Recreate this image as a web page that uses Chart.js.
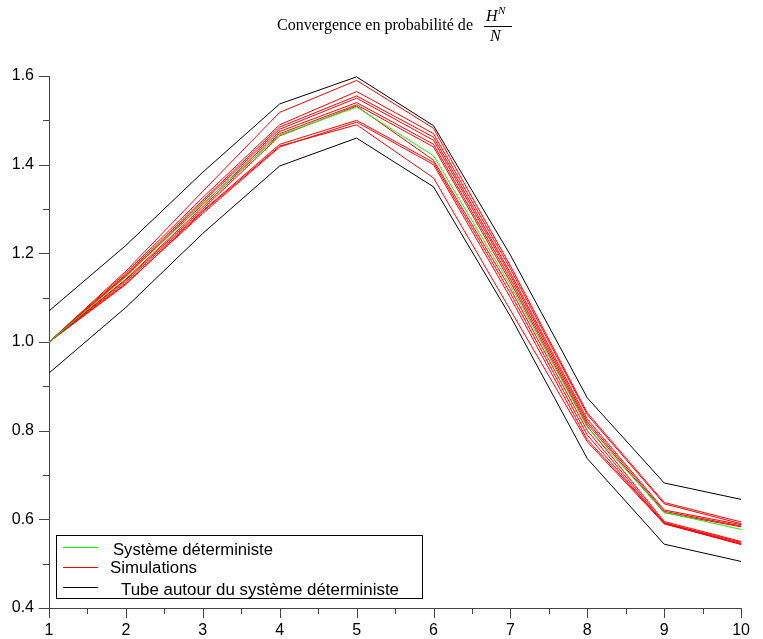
<!DOCTYPE html>
<html>
<head>
<meta charset="utf-8">
<script src="https://cdn.jsdelivr.net/npm/chart.js@4"></script>
<style>
html,body{margin:0;padding:0;background:#fff;}
#c{display:block;}
</style>
</head>
<body>
<canvas id="c" width="763" height="639"></canvas>
<script>
// ---- data ----
const xValues = [1, 2, 3, 4, 5, 6, 7, 8, 9, 10];
const deterministic = [1.0, 1.147, 1.312, 1.467, 1.530, 1.420, 1.128, 0.808, 0.616, 0.577];
const tubeUpper = [1.070, 1.218, 1.383, 1.537, 1.598, 1.488, 1.196, 0.874, 0.682, 0.645];
const tubeLower = [0.930, 1.078, 1.245, 1.397, 1.460, 1.350, 1.058, 0.737, 0.544, 0.505];
const sim1  = [1.0, 1.160, 1.340, 1.518, 1.590, 1.482, 1.172, 0.840, 0.638, 0.594];
const sim2  = [1.0, 1.156, 1.326, 1.490, 1.565, 1.470, 1.165, 0.836, 0.635, 0.590];
const sim3  = [1.0, 1.152, 1.320, 1.485, 1.555, 1.462, 1.156, 0.826, 0.621, 0.588];
const sim4  = [1.0, 1.148, 1.316, 1.480, 1.550, 1.455, 1.150, 0.820, 0.618, 0.585];
const sim5  = [1.0, 1.150, 1.310, 1.475, 1.540, 1.446, 1.142, 0.815, 0.615, 0.583];
const sim6  = [1.0, 1.142, 1.305, 1.470, 1.535, 1.440, 1.135, 0.810, 0.595, 0.550];
const sim7  = [1.0, 1.140, 1.300, 1.465, 1.532, 1.410, 1.120, 0.800, 0.592, 0.545];
const sim8  = [1.0, 1.136, 1.296, 1.446, 1.500, 1.405, 1.110, 0.790, 0.590, 0.543];
const sim9  = [1.0, 1.132, 1.290, 1.440, 1.496, 1.400, 1.100, 0.780, 0.592, 0.548];
const sim10 = [1.0, 1.130, 1.294, 1.442, 1.490, 1.370, 1.072, 0.775, 0.590, 0.545];
const simulations = [sim1, sim2, sim3, sim4, sim5, sim6, sim7, sim8, sim9, sim10];
const yMajorTicks = [0.4, 0.6, 0.8, 1.0, 1.2, 1.4, 1.6];
const legendLabels = ['Système déterministe', 'Simulations', 'Tube autour du système déterministe'];
const legendColors = ['#00ff00', '#ff0000', '#000000'];
const titleText = 'Convergence en probabilité de';

const toPts = arr => arr.map((v, i) => ({x: xValues[i], y: v}));
const lineDs = (label, arr, color) => ({
  label, data: toPts(arr), borderColor: color, backgroundColor: color,
  borderWidth: 1, pointRadius: 0, fill: false, tension: 0
});

const datasets = [lineDs(legendLabels[0], deterministic, legendColors[0])];
datasets.push(lineDs(legendLabels[2], tubeUpper, legendColors[2]));
datasets.push(lineDs(legendLabels[2] + ' (bas)', tubeLower, legendColors[2]));
simulations.forEach((s, i) => datasets.push(lineDs(legendLabels[1] + ' ' + (i + 1), s, legendColors[1])));

const AXIS_COLOR = '#444444';
const SANS = '"Liberation Sans", Arial, sans-serif';
const SERIF = '"Liberation Serif", "DejaVu Serif", serif';

const tickPlugin = {
  id: 'minorTicks',
  afterDraw(chart) {
    const ctx = chart.ctx;
    const xs = chart.scales.x, ys = chart.scales.y;
    const a = chart.chartArea;
    ctx.save();
    ctx.strokeStyle = AXIS_COLOR;
    ctx.lineWidth = 1;
    ctx.beginPath();
    for (let k = 4; k <= 16; k++) {
      const v = k / 10;
      const py = Math.round(ys.getPixelForValue(v)) + 0.5;
      const len = (k % 2 === 0) ? 10 : 6;
      ctx.moveTo(a.left - len, py);
      ctx.lineTo(a.left, py);
    }
    for (let k = 2; k <= 20; k++) {
      const v = k / 2;
      const px = Math.round(xs.getPixelForValue(v)) + 0.5;
      const len = (k % 2 === 0) ? 10 : 6;
      ctx.moveTo(px, a.bottom);
      ctx.lineTo(px, a.bottom + len);
    }
    ctx.stroke();
    ctx.restore();
  }
};

function fitText(ctx, text, x, y, targetW) {
  const w = ctx.measureText(text).width;
  ctx.save();
  ctx.translate(x, y);
  ctx.scale(targetW / w, 1);
  ctx.fillText(text, 0, 0);
  ctx.restore();
}

const legendPlugin = {
  id: 'boxLegend',
  afterDraw(chart) {
    const ctx = chart.ctx;
    ctx.save();
    const bx = 56.5, by = 535.5, bw = 366, bh = 63;
    ctx.fillStyle = '#ffffff';
    ctx.fillRect(bx, by, bw, bh);
    ctx.strokeStyle = '#000000';
    ctx.lineWidth = 1;
    ctx.strokeRect(bx, by, bw, bh);
    const rows = [
      {ly: 547, tx: 113, ty: 551, w: 160},
      {ly: 567, tx: 110, ty: 569, w: 87},
      {ly: 587, tx: 121, ty: 591, w: 278}
    ];
    ctx.font = '16px ' + SANS;
    ctx.textBaseline = 'middle';
    ctx.textAlign = 'left';
    rows.forEach((r, i) => {
      ctx.fillStyle = legendColors[i];
      ctx.fillRect(63, r.ly, 35, 1);
      ctx.fillStyle = '#000000';
      fitText(ctx, legendLabels[i], r.tx, r.ty, r.w);
    });
    ctx.restore();
  }
};

const titlePlugin = {
  id: 'mathTitle',
  afterDraw(chart) {
    const ctx = chart.ctx;
    ctx.save();
    ctx.fillStyle = '#000';
    ctx.textBaseline = 'alphabetic';
    ctx.textAlign = 'left';
    ctx.font = '16px ' + SERIF;
    fitText(ctx, titleText, 277, 30, 196);
    // fraction H^N / N
    ctx.font = 'italic 16px ' + SERIF;
    ctx.fillText('H', 486, 21);
    ctx.font = 'italic 11px ' + SERIF;
    ctx.fillText('N', 498, 14);
    ctx.font = 'italic 16px ' + SERIF;
    ctx.fillText('N', 490, 41);
    ctx.fillRect(484, 26, 28, 1);
    ctx.restore();
  }
};

new Chart(document.getElementById('c'), {
  type: 'line',
  data: {datasets},
  plugins: [tickPlugin, legendPlugin, titlePlugin],
  options: {
    responsive: false,
    animation: false,
    devicePixelRatio: 1,
    layout: {padding: {left: 0, right: 9, top: 76, bottom: 0}},
    plugins: {legend: {display: false}, tooltip: {enabled: false}, title: {display: false}},
    scales: {
      x: {
        type: 'linear', min: 1, max: 10,
        grid: {display: false, drawTicks: false},
        border: {display: true, color: AXIS_COLOR, width: 1},
        ticks: {stepSize: 1, padding: 13, color: '#000', font: {family: SANS, size: 16},
                maxRotation: 0, autoSkip: false},
        afterFit(s) { s.height = 31; }
      },
      y: {
        type: 'linear', min: 0.4, max: 1.6,
        grid: {display: false, drawTicks: false},
        border: {display: true, color: AXIS_COLOR, width: 1},
        ticks: {
          stepSize: 0.2, padding: 15, color: '#000', font: {family: SANS, size: 16},
          callback: v => {
            const m = yMajorTicks.find(t => Math.abs(t - v) < 1e-6);
            return m === undefined ? '' : m.toFixed(1);
          }
        },
        afterFit(s) { s.width = 49; }
      }
    }
  }
});
</script>
</body>
</html>
